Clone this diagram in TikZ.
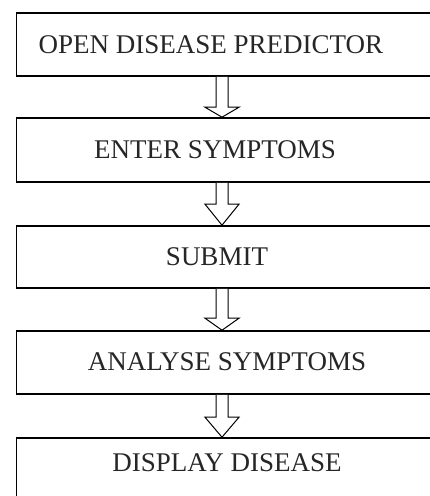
\documentclass[tikz,border=0pt]{standalone}
\usepackage{fontspec}
\setmainfont{Liberation Serif}
\usetikzlibrary{calc}
\tikzset{
  stepbox/.style={draw=black, line width=1.6pt, fill=white, rectangle, inner sep=0pt, minimum width=418pt},
  lbl/.style={font=\fontsize{27}{30}\selectfont, text=black!85, inner sep=0pt, anchor=center},
  blockarrow/.style={draw=black, line width=1pt, fill=white, line join=miter},
}
\newcommand\blockarr[3]{% from node, to node, head length
  \draw[blockarrow]
    ($(#1.south -| axis)+(-6,0)$) -- ($(#2.north -| axis)+(-6,-#3)$)
    -- ($(#2.north -| axis)+(-17,-#3)$) -- (#2.north -| axis)
    -- ($(#2.north -| axis)+(17,-#3)$) -- ($(#2.north -| axis)+(6,-#3)$)
    -- ($(#1.south -| axis)+(6,0)$);
}
\begin{document}
\begin{tikzpicture}[x=1pt, y=-1pt]
\useasboundingbox (0,0) rectangle (430,496);
\clip (0,0) rectangle (430,496);
\coordinate (axis) at (222,0);
\node[stepbox, minimum height=63pt] (b1) at (225.5,44.5) {};
\node[stepbox, minimum height=64pt] (b2) at (225.5,150) {};
\node[stepbox, minimum height=62pt] (b3) at (225.5,257) {};
\node[stepbox, minimum height=63pt] (b4) at (225.5,362.5) {};
\node[stepbox, minimum height=63pt] (b5) at (225.5,469.5) {};
\node[lbl] (t1) at (211,45) {OPEN DISEASE PREDICTOR};
\node[lbl] (t2) at (215,150) {ENTER SYMPTOMS};
\node[lbl] (t3) at (217,257) {SUBMIT};
\node[lbl] (t4) at (227,362) {ANALYSE SYMPTOMS};
\node[lbl] (t5) at (227,463) {DISPLAY DISEASE};
\blockarr{b1}{b2}{10}
\blockarr{b2}{b3}{21}
\blockarr{b3}{b4}{12}
\blockarr{b4}{b5}{20}
\end{tikzpicture}
\end{document}
